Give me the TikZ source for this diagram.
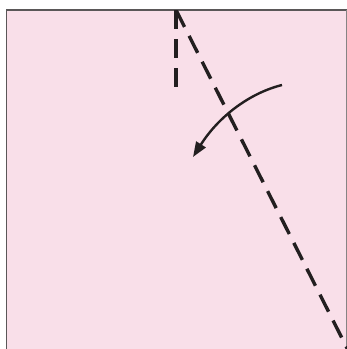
\documentclass[tikz,border=0pt]{standalone}
\usetikzlibrary{arrows.meta}
\definecolor{bgpink}{HTML}{F9DFE9}
\definecolor{ink}{HTML}{231F20}
\tikzset{
  fold/.style={ink, line width=3.4pt, dash pattern=on 19pt off 10pt},
  turn/.style={ink, line width=2.4pt, -{Triangle[length=15pt,width=11pt]}},
  frame/.style={draw=ink!75, line width=1.2pt}
}
\begin{document}
\begin{tikzpicture}[x=1pt,y=-1pt]
\useasboundingbox (0,0) rectangle (347,349);
\fill[bgpink] (6.5,10) rectangle (347,349);
\draw[frame] (6.5,349) -- (6.5,10) -- (347,10);
\draw[draw=ink!55, line width=1pt] (346.5,10) -- (346.5,349);
\coordinate (apex) at (176,10);
\coordinate (vend) at (176,87);
\coordinate (dend) at (350,354);
\coordinate (as) at (282,85);
\coordinate (ae) at (193,157);
\begin{scope}
\clip (6.5,10) rectangle (347,349);
\draw[fold] (apex) -- (vend);
\draw[fold] (apex) -- (dend);
\end{scope}
\draw[turn] (as) .. controls (250,93) and (219,116) .. (ae);
\end{tikzpicture}
\end{document}
